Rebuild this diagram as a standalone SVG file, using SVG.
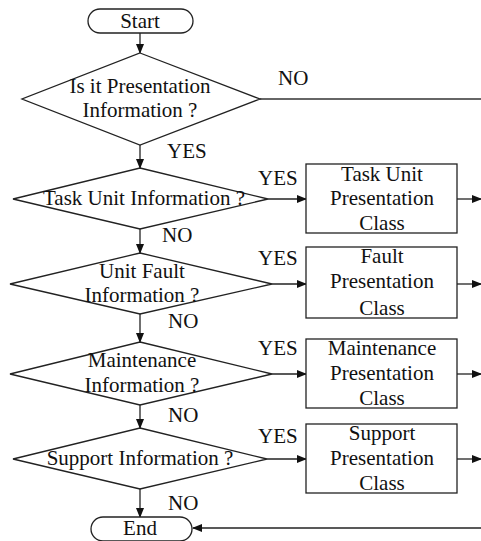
<svg xmlns="http://www.w3.org/2000/svg" width="481" height="541" viewBox="0 0 481 541">
  <defs>
    <marker id="arrow" markerWidth="10" markerHeight="8" refX="9" refY="4" orient="auto" markerUnits="userSpaceOnUse">
      <path d="M0,0 L10,4 L0,8 Z" fill="#111"/>
    </marker>
    <style>
      .shape { fill: #fff; stroke: #222; stroke-width: 1.3; }
      .line { fill: none; stroke: #333; stroke-width: 1.3; }
      .arrow { fill: none; stroke: #222; stroke-width: 1.3; marker-end: url(#arrow); }
      text { font-family: 'Liberation Serif', Tinos, 'Times New Roman', 'DejaVu Serif', serif; font-size: 21px; fill: #111; }
      .c { text-anchor: middle; }
    </style>
  </defs>
  <rect width="481" height="541" fill="#fff"/>

  <!-- connectors -->
  <g id="connectors">
    <line class="arrow" x1="140" y1="33" x2="140" y2="53"/>
    <line class="line" x1="260" y1="99" x2="481" y2="99"/>
    <line class="arrow" x1="140" y1="145" x2="140" y2="168"/>
    <line class="arrow" x1="268" y1="199" x2="306" y2="199"/>
    <line class="arrow" x1="457" y1="199" x2="481" y2="199"/>
    <line class="arrow" x1="140" y1="229" x2="140" y2="253"/>
    <line class="arrow" x1="272" y1="284" x2="306" y2="284"/>
    <line class="arrow" x1="457" y1="284" x2="481" y2="284"/>
    <line class="arrow" x1="140" y1="314" x2="140" y2="342"/>
    <line class="arrow" x1="272" y1="374" x2="306" y2="374"/>
    <line class="arrow" x1="457" y1="374" x2="481" y2="374"/>
    <line class="arrow" x1="140" y1="405" x2="140" y2="428"/>
    <line class="arrow" x1="267" y1="459" x2="306" y2="459"/>
    <line class="arrow" x1="457" y1="459" x2="481" y2="459"/>
    <line class="arrow" x1="140" y1="489" x2="140" y2="517"/>
    <line class="arrow" x1="481" y1="528" x2="193" y2="528"/>
  </g>

  <g font-family="'Liberation Serif', Tinos, 'DejaVu Serif', serif">
  <!-- edge labels -->
  <g id="labels">
    <text x="278" y="85">NO</text>
    <text x="167" y="158">YES</text>
    <text x="258" y="185">YES</text>
    <text x="162" y="242">NO</text>
    <text x="258" y="265">YES</text>
    <text x="168" y="328">NO</text>
    <text x="258" y="355">YES</text>
    <text x="168" y="422">NO</text>
    <text x="258" y="443">YES</text>
    <text x="168" y="510">NO</text>
  </g>

  <g id="start">
    <rect class="shape" x="88" y="9" width="105" height="24" rx="12" ry="12"/>
    <text class="c" x="140" y="28">Start</text>
  </g>

  <g id="q-presentation">
    <polygon class="shape" points="140,53 260,99 140,145 22,99"/>
    <text class="c" x="140" y="93">Is it Presentation</text>
    <text class="c" x="140" y="117">Information ?</text>
  </g>

  <g id="q-task-unit">
    <polygon class="shape" points="140,168 268,199 140,229 13,199"/>
    <text class="c" x="144" y="205">Task Unit Information ?</text>
  </g>

  <g id="task-unit-class">
    <rect class="shape" x="306" y="164" width="151" height="69"/>
    <text class="c" x="382" y="181">Task Unit</text>
    <text class="c" x="382" y="205">Presentation</text>
    <text class="c" x="382" y="230">Class</text>
  </g>

  <g id="q-unit-fault">
    <polygon class="shape" points="140,253 272,284 140,314 10,284"/>
    <text class="c" x="142" y="278">Unit Fault</text>
    <text class="c" x="142" y="302">Information ?</text>
  </g>

  <g id="fault-class">
    <rect class="shape" x="306" y="247" width="151" height="71"/>
    <text class="c" x="382" y="263">Fault</text>
    <text class="c" x="382" y="288">Presentation</text>
    <text class="c" x="382" y="315">Class</text>
  </g>

  <g id="q-maintenance">
    <polygon class="shape" points="140,342 272,374 140,405 10,374"/>
    <text class="c" x="142" y="367">Maintenance</text>
    <text class="c" x="142" y="392">Information ?</text>
  </g>

  <g id="maintenance-class">
    <rect class="shape" x="306" y="339" width="151" height="69"/>
    <text class="c" x="382" y="355">Maintenance</text>
    <text class="c" x="382" y="380">Presentation</text>
    <text class="c" x="382" y="405">Class</text>
  </g>

  <g id="q-support">
    <polygon class="shape" points="140,428 267,459 140,489 13,459"/>
    <text class="c" x="140" y="465">Support Information ?</text>
  </g>

  <g id="support-class">
    <rect class="shape" x="306" y="424" width="151" height="69"/>
    <text class="c" x="382" y="440">Support</text>
    <text class="c" x="382" y="465">Presentation</text>
    <text class="c" x="382" y="490">Class</text>
  </g>

  <g id="end">
    <rect class="shape" x="91" y="517" width="101" height="24" rx="12" ry="12"/>
    <text class="c" x="140" y="535">End</text>
  </g>
  </g>
</svg>
